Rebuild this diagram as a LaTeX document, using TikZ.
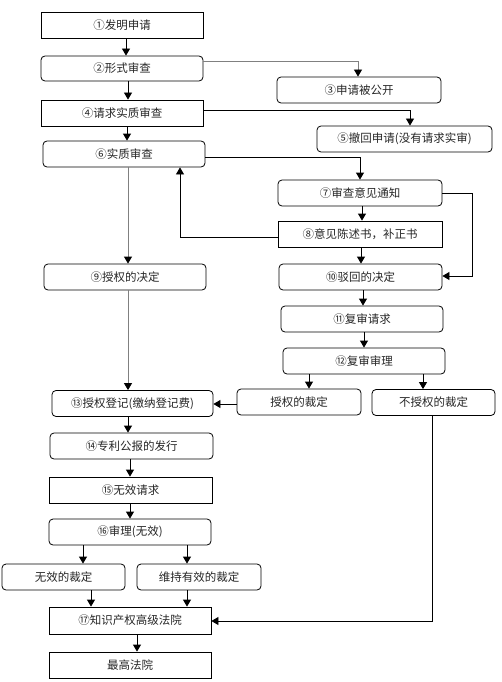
\documentclass[tikz,border=0pt]{standalone}
\usepackage{fontspec}
\newfontfamily\cjk{Noto Sans CJK SC}
\usetikzlibrary{arrows.meta}
\begin{document}
\begin{tikzpicture}[x=1pt,y=-1pt,
  base/.style={draw=black, line width=0.8pt, inner sep=0pt, font=\cjk\fontsize{11.5}{13}\selectfont, text=black!85},
  sbox/.style={base},
  rbox/.style={base, rounded corners=4pt},
  arr/.style={line width=0.8pt, -{Triangle[length=7pt,width=8pt]}},
  garr/.style={arr, draw=black!50, -{Triangle[length=7pt,width=8pt,fill=black,color=black]}}
]
\useasboundingbox (0,0) rectangle (501,682);
% nodes
\node[sbox, minimum width=162pt, minimum height=26pt] (n1) at (122,25) {①发明申请};
\node[rbox, minimum width=162pt, minimum height=25pt] (n2) at (122,68.5) {②形式审查};
\node[rbox, minimum width=164pt, minimum height=26pt] (n3) at (359,90) {③申请被公开};
\node[sbox, minimum width=162pt, minimum height=26pt] (n4) at (122,113) {④请求实质审查};
\node[rbox, minimum width=175pt, minimum height=26pt] (n5) at (404.5,139) {⑤撤回申请(没有请求实审)};
\node[rbox, minimum width=162pt, minimum height=26pt] (n6) at (124,154) {⑥实质审查};
\node[rbox, minimum width=164pt, minimum height=26pt] (n7) at (360,193) {⑦审查意见通知};
\node[sbox, minimum width=164pt, minimum height=26pt] (n8) at (360,234) {⑧意见陈述书，补正书};
\node[rbox, minimum width=162pt, minimum height=26pt] (n9) at (125,277) {⑨授权的决定};
\node[rbox, minimum width=163pt, minimum height=26pt] (n10) at (360.5,277) {⑩驳回的决定};
\node[rbox, minimum width=162pt, minimum height=26pt] (n11) at (362,319) {⑪复审请求};
\node[rbox, minimum width=162pt, minimum height=26pt] (n12) at (364,361) {⑫复审审理};
\node[rbox, minimum width=124pt, minimum height=26pt] (ga) at (299,402) {授权的裁定};
\node[rbox, minimum width=123pt, minimum height=26pt] (gb) at (433.5,402.5) {不授权的裁定};
\node[rbox, minimum width=161pt, minimum height=26pt] (n13) at (132.5,403.5) {⑬授权登记(缴纳登记费)};
\node[rbox, minimum width=163pt, minimum height=26pt] (n14) at (131.5,446) {⑭专利公报的发行};
\node[sbox, minimum width=163pt, minimum height=26pt] (n15) at (130.5,490) {⑮无效请求};
\node[rbox, minimum width=162pt, minimum height=26pt] (n16) at (130,532) {⑯审理(无效)};
\node[rbox, minimum width=123pt, minimum height=26pt] (ia) at (63.5,577) {无效的裁定};
\node[rbox, minimum width=124pt, minimum height=26pt] (ib) at (199,577) {维持有效的裁定};
\node[sbox, minimum width=162pt, minimum height=27pt] (n17) at (130,620.5) {⑰知识产权高级法院};
\node[sbox, minimum width=162pt, minimum height=26pt] (n18) at (130,665) {最高法院};
% connectors
\draw[arr] (126,0 |- n1.south) -- (126,0 |- n2.north);
\draw[garr] (n2.east |- 0,61) -- (358,61) -- (358,0 |- n3.north);
\draw[arr] (128,0 |- n2.south) -- (128,0 |- n4.north);
\draw[arr] (n4.east |- 0,110) -- (410,110) -- (410,0 |- n5.north);
\draw[arr] (127,0 |- n4.south) -- (127,0 |- n6.north);
\draw[arr] (n6.east |- 0,157) -- (360,157) -- (360,0 |- n7.north);
\draw[arr] (362,0 |- n7.south) -- (362,0 |- n8.north);
\draw[arr] (n8.west |- 0,237) -- (180,237) -- (180,0 |- n6.south);
\draw[arr] (n7.east) -- (472,193) -- (472,276) -- (n10.east |- 0,276);
\draw[arr] (361,0 |- n8.south) -- (361,0 |- n10.north);
\draw[arr] (363,0 |- n10.south) -- (363,0 |- n11.north);
\draw[garr] (128,0 |- n6.south) -- (128,0 |- n9.north);
\draw[garr] (128,0 |- n9.south) -- (128,0 |- n13.north);
\draw[arr] (364,0 |- n11.south) -- (364,0 |- n12.north);
\draw[arr] (309,0 |- n12.south) -- (309,0 |- ga.north);
\draw[arr] (423,0 |- n12.south) -- (423,0 |- gb.north);
\draw[arr] (ga.west |- 0,404) -- (n13.east |- 0,404);
\draw[arr] (128,0 |- n13.south) -- (128,0 |- n14.north);
\draw[arr] (130,0 |- n14.south) -- (130,0 |- n15.north);
\draw[arr] (130,0 |- n15.south) -- (130,0 |- n16.north);
\draw[arr] (83,0 |- n16.south) -- (83,0 |- ia.north);
\draw[arr] (187,0 |- n16.south) -- (187,0 |- ib.north);
\draw[arr] (91,0 |- ia.south) -- (91,0 |- n17.north);
\draw[arr] (187,0 |- ib.south) -- (187,0 |- n17.north);
\draw[arr] (432,0 |- gb.south) -- (432,621) -- (n17.east |- 0,621);
\draw[arr] (137,0 |- n17.south) -- (137,0 |- n18.north);
\end{tikzpicture}
\end{document}
